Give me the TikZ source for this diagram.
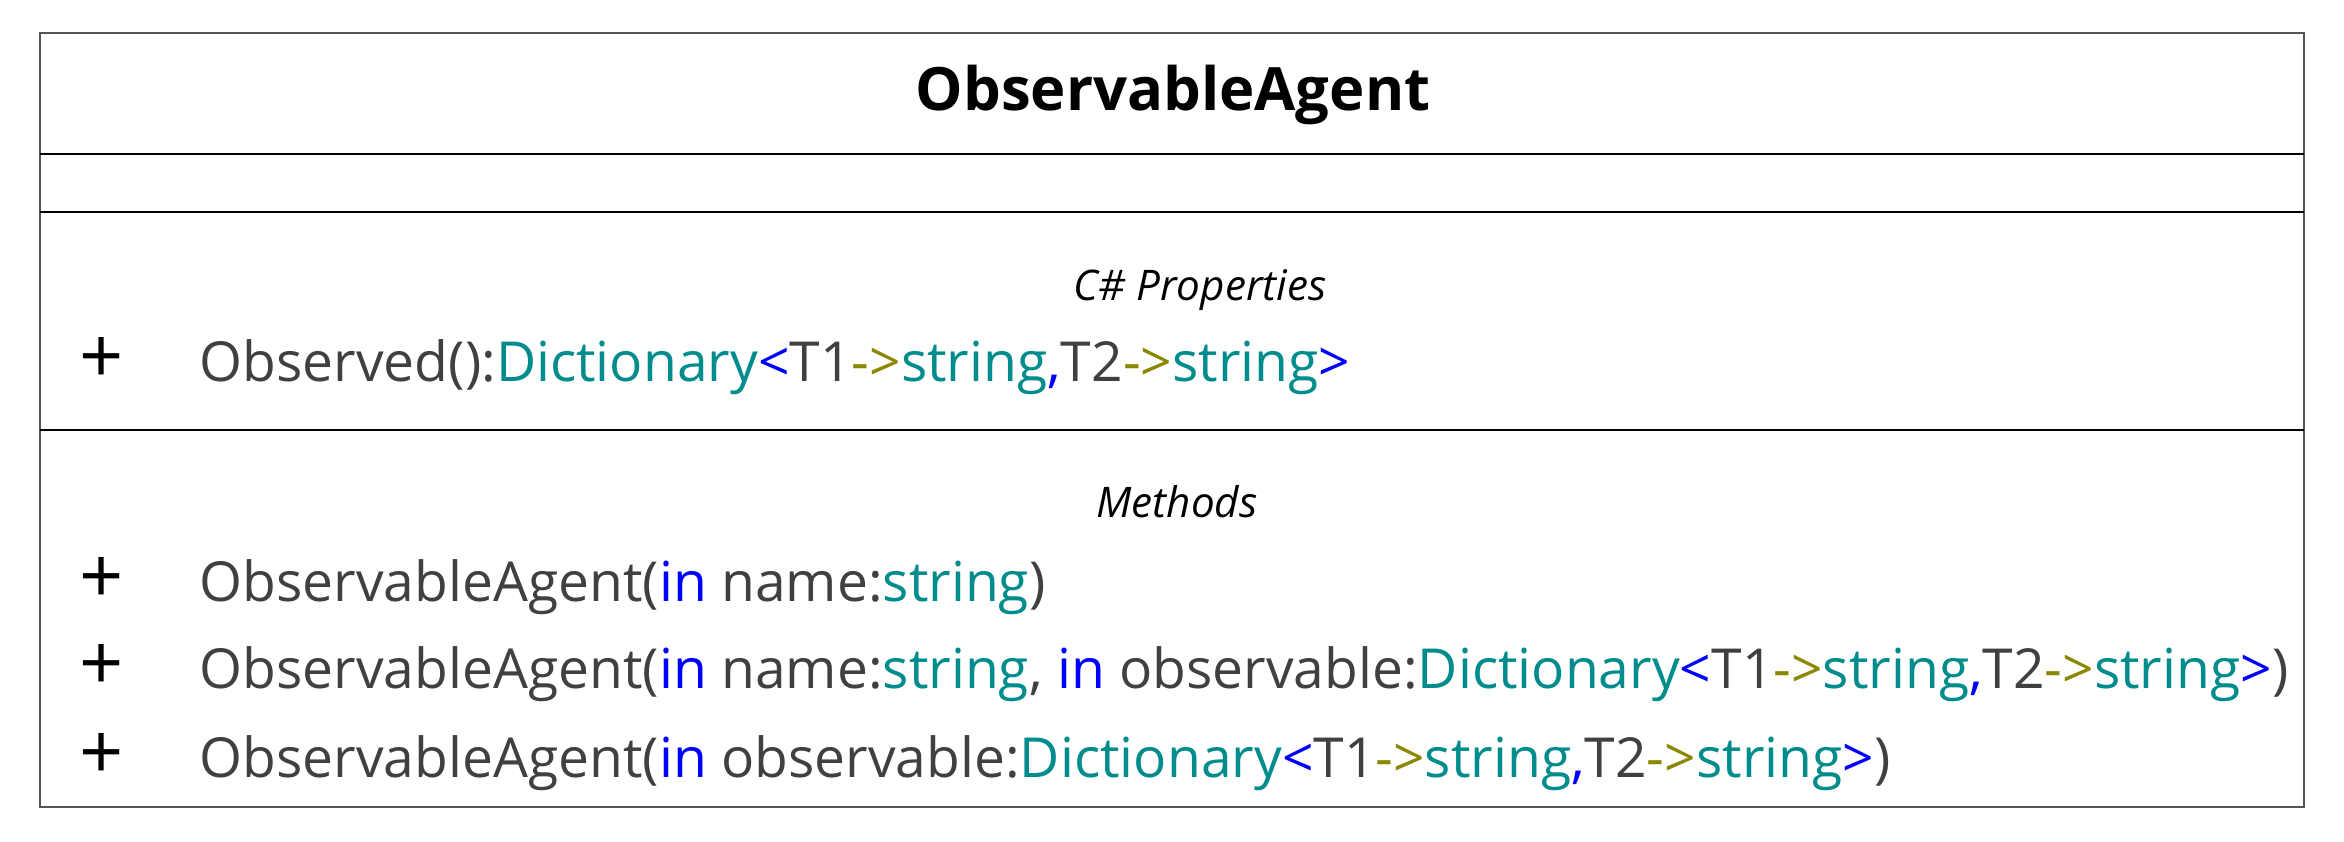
\documentclass[tikz,border=0pt]{standalone}
\usepackage{fontspec}
\setmainfont{Open Sans}
\usepackage{tikz}
\usepackage{xcolor}

\definecolor{umltext}{RGB}{64,64,64}
\definecolor{umlteal}{RGB}{0,140,140}
\definecolor{umlblue}{RGB}{0,0,255}
\definecolor{umlolive}{RGB}{140,135,0}
\definecolor{umlframe}{RGB}{85,85,85}

\newcommand{\umlty}[1]{\textcolor{umlteal}{#1}}
\newcommand{\umlkw}[1]{\textcolor{umlblue}{#1}}
\newcommand{\umlarr}{\textcolor{umlolive}{->}}
\newcommand{\umldict}{\umlty{Dictionary}\umlkw{<}T1\umlarr\umlty{string}\umlkw{,}T2\umlarr\umlty{string}\umlkw{>}}

\begin{document}
\begin{tikzpicture}[x=0.1mm, y=0.1mm]
\tikzstyle{every node}+=[inner sep=0pt]
\tikzstyle{member}=[anchor=base west, text=umltext, font=\fontsize{15.7}{19}\selectfont]
\tikzstyle{vis}=[anchor=center, text=black, font=\fontsize{22}{26}\selectfont]
\tikzstyle{section}=[anchor=base, text=black, font=\fontsize{12}{15}\selectfont\itshape]
\useasboundingbox (0,0) rectangle (2344,-841);
% class frame and compartments
\draw [umlframe, line width=0.7pt] (40,-33) rectangle (2304,-807);
\draw [black, line width=0.8pt] (40,-154) -- (2304,-154);
\draw [black, line width=0.8pt] (40,-212) -- (2304,-212);
\draw [black, line width=0.8pt] (40,-430) -- (2304,-430);
% name
\node (title) at (1173,-110) [anchor=base, font=\fontsize{17}{20}\selectfont\bfseries] {ObservableAgent};
% properties
\node (props) at (1200,-300) [section] {C\# Properties};
\node (vobs) at (102,-360) [vis] {+};
\node (observed) at (199,-381) [member] {Observed():\umldict};
% methods
\node (meths) at (1177,-517) [section] {Methods};
\node (vctorA) at (102,-580) [vis] {+};
\node (ctorA) at (199,-601) [member] {ObservableAgent(\umlkw{in} name:\umlty{string})};
\node (vctorB) at (102,-667) [vis] {+};
\node (ctorB) at (199,-688) [member] {ObservableAgent(\umlkw{in} name:\umlty{string}, \umlkw{in} observable:\umldict)};
\node (vctorC) at (102,-756) [vis] {+};
\node (ctorC) at (199,-777) [member] {ObservableAgent(\umlkw{in} observable:\umldict)};
\end{tikzpicture}
\end{document}
